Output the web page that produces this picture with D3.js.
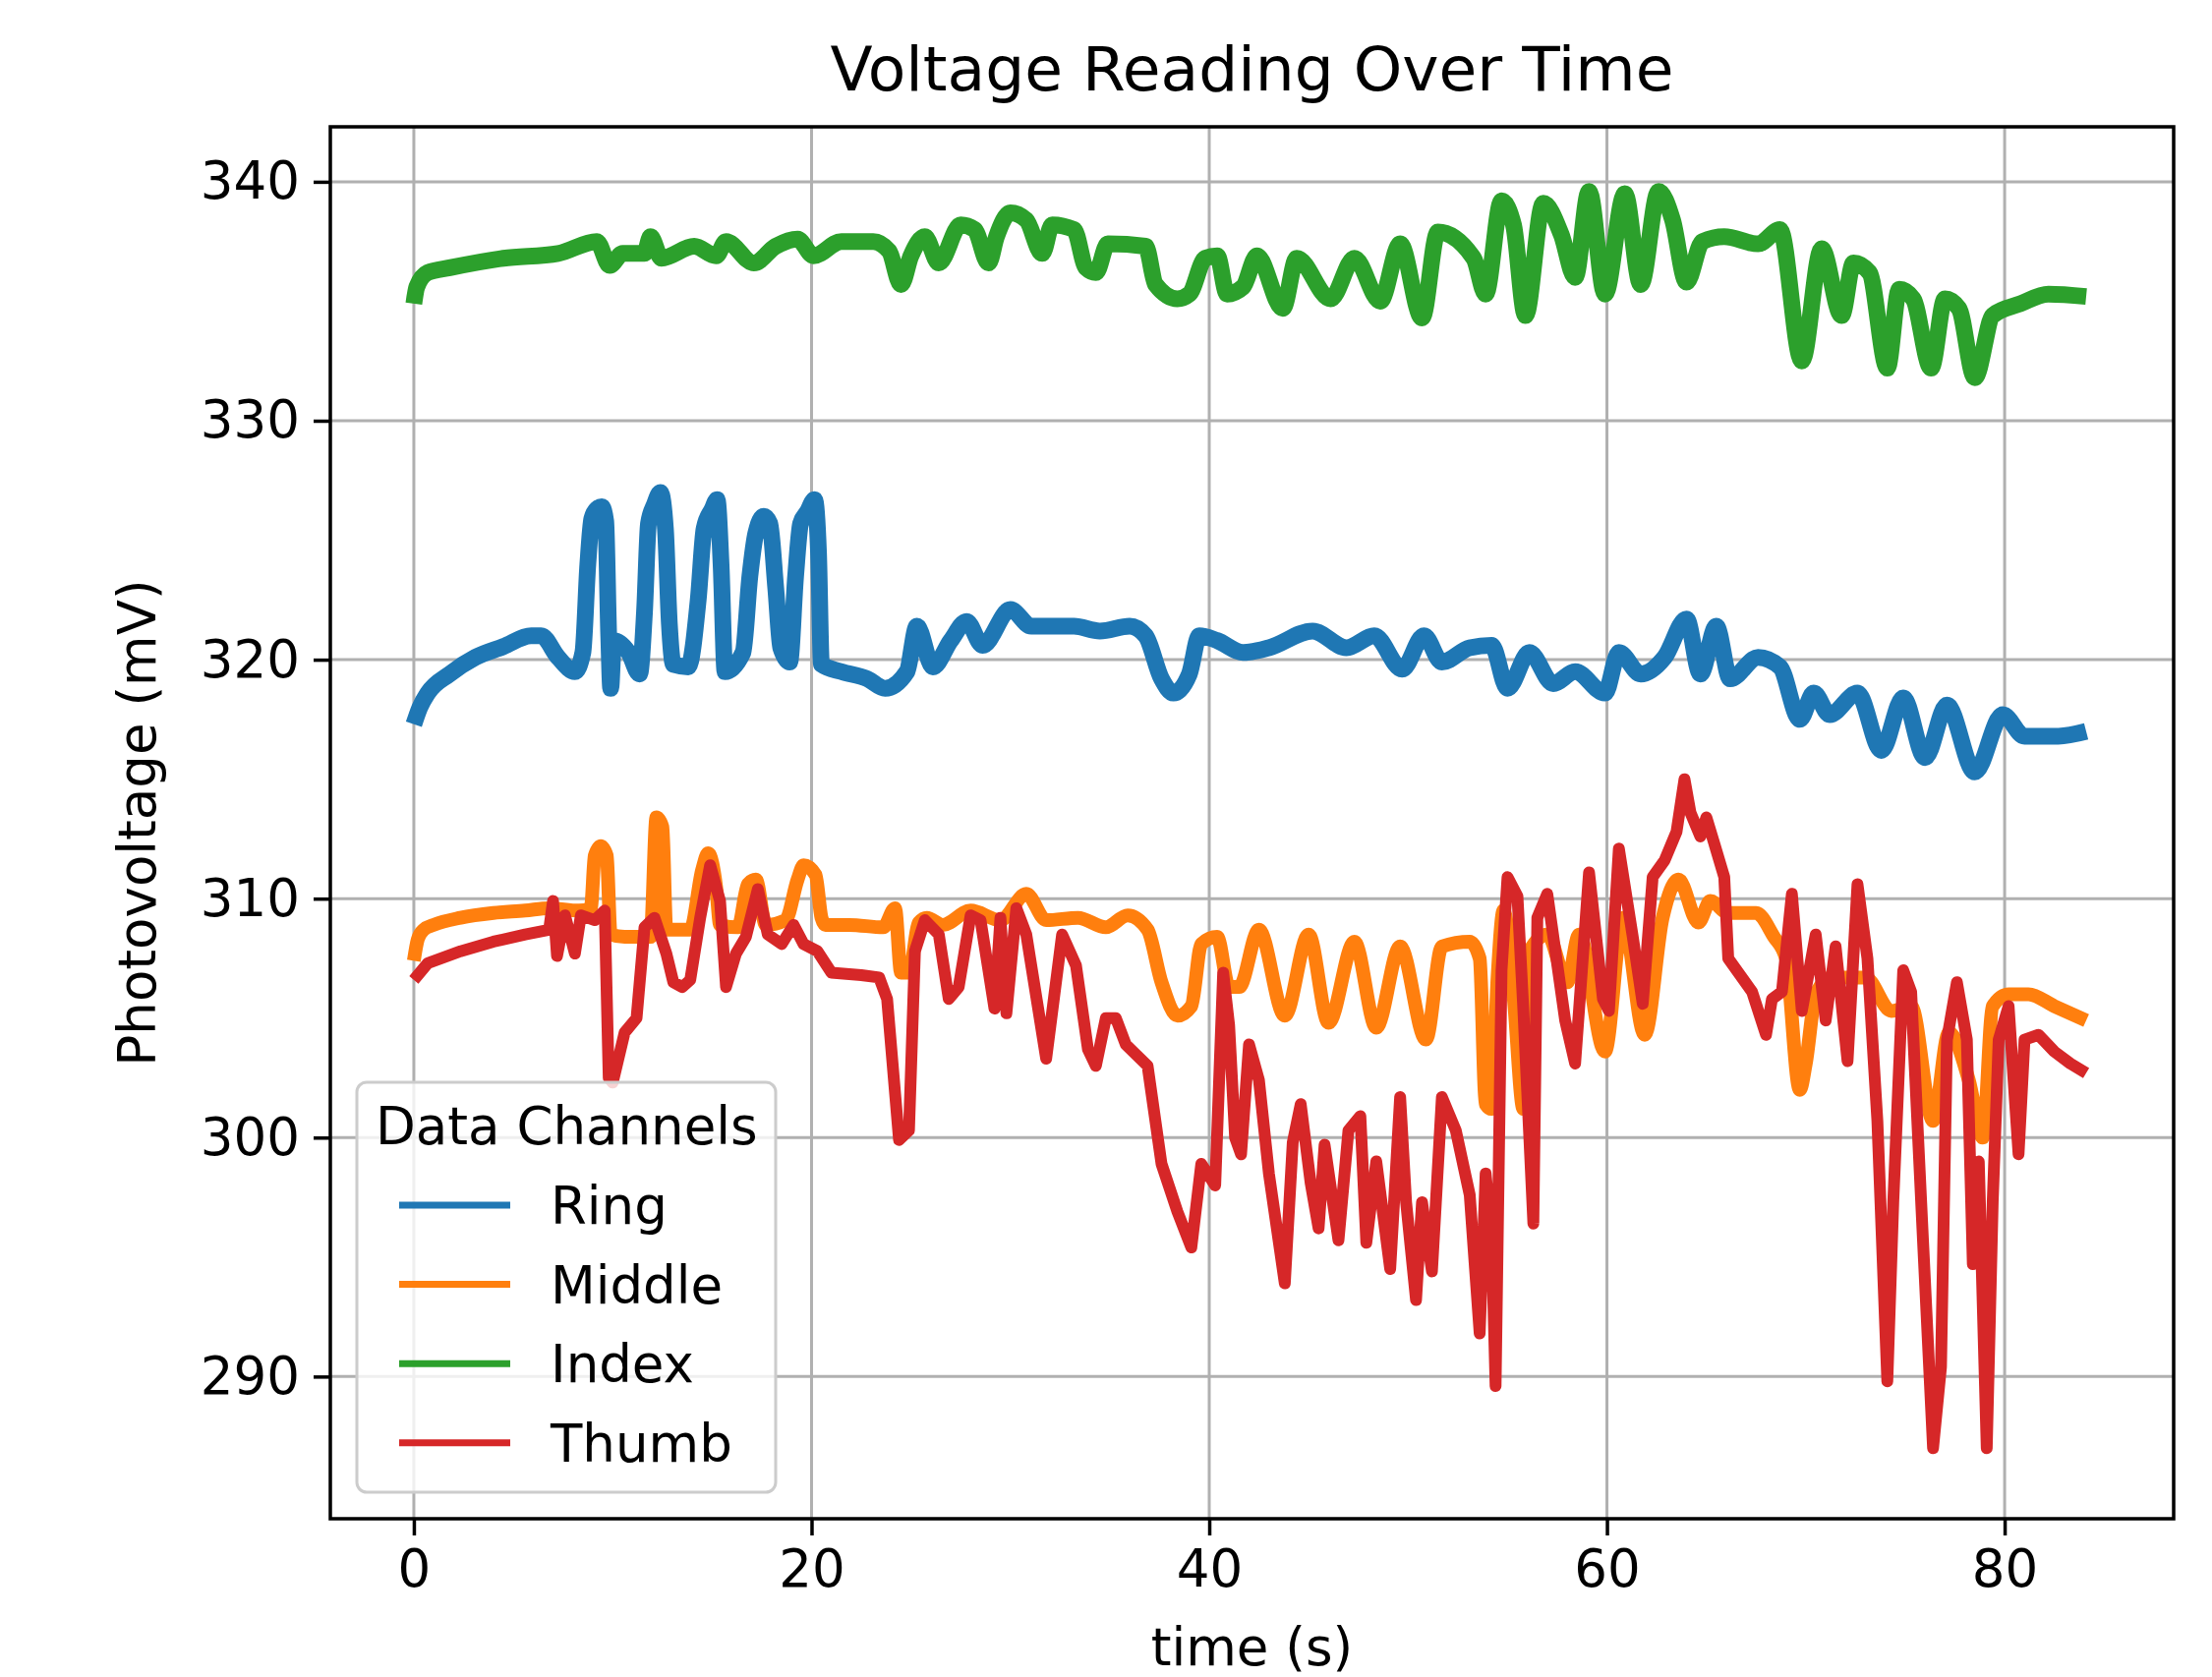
<!doctype html>
<html lang="en">
<head>
    <meta charset="UTF-8">
    <script src="https://cdnjs.cloudflare.com/ajax/libs/d3/7.8.5/d3.min.js"></script>
    <title>Voltage Reading Over Time</title>
    <style>
        body { margin: 0; background: #fff; }
        text { font-family: "DejaVu Sans", sans-serif; fill: #000; }
    </style>
</head>
<body>

<div id="viz_area"></div>

<script>
    // [time (s), photovoltage (mV)]
    const ring = [[0,317.3],[0.3,318.0],[0.7,318.6],[1.8,319.4],[3.1,320.1],[4.5,320.55],[5.9,321.0],[6.4,321.0],
        [7.25,320.1],[8.1,319.5],[8.5,320.3],[8.75,324.0],[8.95,325.9],[9.2,326.3],[9.45,326.4],[9.65,325.8],[9.8,321.0],
        [9.9,318.8],[10.05,320.8],[10.8,320.3],[11.35,319.4],[11.6,322.0],[11.8,325.7],[12.1,326.5],[12.4,327.0],[12.65,325.5],
        [12.85,321.5],[13.05,319.8],[13.8,319.7],[14.3,322.5],[14.6,325.5],[15.0,326.3],[15.25,326.7],[15.45,324.0],[15.65,319.5],
        [16.55,320.3],[16.9,323.5],[17.2,325.3],[17.6,326.0],[17.9,325.7],[18.2,323.0],[18.45,320.5],[18.9,319.9],[19.2,323.5],
        [19.45,325.7],[19.8,326.2],[20.15,326.7],[20.35,324.5],[20.5,319.8],
        [21.5,319.5],[22.8,319.2],[23.7,318.8],[24.8,319.5],[25.3,321.4],[26.1,319.7],[27.0,320.8],[27.8,321.6],[28.6,320.6],
        [30.0,322.1],[31.05,321.4],[33.2,321.4],[34.5,321.2],[36.0,321.4],[36.8,321.0],[37.6,319.2],[38.2,318.6],[39.0,319.4],
        [39.5,321.0],[40.4,320.8],[41.7,320.3],[43.0,320.5],[45.2,321.2],[46.9,320.5],[48.3,321.0],[49.7,319.6],[50.8,321.0],
        [51.7,319.9],[53.1,320.5],[54.2,320.6],[55.0,318.8],[56.1,320.3],[57.3,319.0],[58.4,319.5],[59.9,318.6],[60.6,320.3],
        [61.7,319.4],[62.9,320.1],[64.0,321.7],[64.7,319.4],[65.5,321.4],[66.2,319.2],[67.6,320.1],[68.7,319.7],[69.7,317.5],
        [70.4,318.6],[71.2,317.7],[72.6,318.6],[73.8,316.2],[74.9,318.4],[76.0,315.9],[77.1,318.1],[78.5,315.3],[79.9,317.7],
        [81.0,316.8],[82.7,316.8],[84.1,317.0]];

    const middle = [[0,307.4],[0.2,308.3],[0.5,308.7],[1.0,308.9],[2.35,309.2],[4.0,309.4],[5.6,309.5],[6.8,309.6],
        [8.3,309.5],[8.9,309.6],[9.1,311.8],[9.4,312.2],[9.7,311.8],[9.9,308.5],[10.6,308.4],[11.9,308.4],[12.2,313.4],
        [12.5,313.0],[12.7,308.7],[13.9,308.7],[14.5,311.2],[14.8,311.9],[15.2,310.5],[15.4,308.9],[16.3,308.8],[16.8,310.6],
        [17.2,310.8],[17.7,308.9],[18.7,309.1],[19.3,310.8],[19.6,311.4],[20.2,311.0],[20.5,309.2],[20.7,308.9],[21.9,308.9],
        [23.6,308.8],[24.2,309.6],[24.5,306.9],[24.9,306.9],[25.4,309.0],[25.8,309.2],[26.6,308.9],[28.0,309.5],[29.5,309.1],
        [30.8,310.2],[31.8,309.1],[33.4,309.2],[34.8,308.8],[35.9,309.3],[36.9,308.7],[37.6,306.5],[38.4,305.1],[39.1,305.5],
        [39.6,308.1],[40.4,308.4],[41.0,306.3],[41.5,306.3],[42.5,308.7],[43.8,305.1],[45.0,308.5],[46.0,304.8],[47.3,308.2],
        [48.4,304.6],[49.6,308.0],[50.9,304.1],[51.7,308.0],[53.1,308.2],[53.6,307.5],[53.9,301.4],[54.2,301.2],[54.5,306.7],
        [54.8,309.5],[55.3,306.0],[55.8,301.2],[56.1,307.8],[57.0,308.5],[58.0,306.5],[58.6,308.5],[59.9,303.6],[60.8,309.2],
        [61.9,304.3],[62.8,309.2],[63.6,310.8],[64.6,309.0],[65.2,309.9],[66.1,309.4],[67.5,309.4],[68.4,308.4],[69.0,307.5],
        [69.7,302.0],[70.0,303.1],[70.5,306.0],[71.3,306.7],[73.0,306.7],[74.3,305.3],[75.3,305.5],[76.4,300.7],[77.2,304.4],
        [78.2,302.4],[78.9,300.0],[79.4,305.5],[80.2,306.0],[81.2,306.0],[82.5,305.5],[84.1,304.9]];

    const index = [[0,334.9],[0.15,335.6],[0.7,336.2],[1.8,336.4],[4.5,336.8],[7.25,337.0],[9.2,337.5],[9.85,336.5],
        [10.5,337.0],[11.6,337.0],[11.9,337.7],[12.45,336.8],[14.1,337.3],[15.2,336.9],[15.7,337.5],[17.1,336.6],[18.2,337.3],
        [19.3,337.6],[20.1,336.9],[21.5,337.5],[23.1,337.5],[23.9,337.1],[24.5,335.7],[25.0,336.9],[25.7,337.7],[26.4,336.6],
        [27.5,338.2],[28.2,338.0],[28.9,336.6],[29.3,337.7],[30.0,338.7],[30.8,338.4],[31.6,337.0],[32.1,338.2],[33.2,338.0],
        [33.8,336.4],[34.3,336.2],[34.9,337.4],[36.8,337.3],[37.3,335.7],[38.4,335.1],[39.0,335.3],[39.8,336.8],[40.4,336.9],
        [40.9,335.3],[41.7,335.6],[42.4,336.9],[43.7,334.7],[44.4,336.8],[46.1,335.1],[47.3,336.8],[48.6,335.0],[49.6,337.4],
        [50.7,334.3],[51.5,337.9],[53.3,336.8],[53.9,335.3],[54.7,339.2],[55.3,338.2],[55.9,334.4],[56.8,339.1],[57.7,337.8],
        [58.4,336.0],[59.1,339.6],[59.9,335.3],[60.9,339.5],[61.7,335.7],[62.6,339.6],[63.3,338.4],[64.0,335.8],[64.8,337.5],
        [65.9,337.7],[67.6,337.4],[68.7,338.0],[69.8,332.5],[70.8,337.2],[71.8,334.4],[72.4,336.6],[73.2,336.2],[74.1,332.2],
        [74.7,335.5],[75.4,335.1],[76.3,332.2],[77.0,335.1],[77.7,334.7],[78.5,331.8],[79.4,334.4],[80.8,334.9],[82.2,335.3],
        [84.1,335.2]];

    const thumb = [[0,306.6],[0.7,307.3],[2.35,307.8],[4.0,308.2],[5.6,308.5],[6.8,308.7],[7.0,309.9],[7.2,307.6],
        [7.6,309.3],[8.1,307.7],[8.4,309.3],[9.1,309.1],[9.6,309.5],[9.8,302.5],[10.0,302.3],[10.6,304.4],[11.2,305.0],
        [11.6,308.8],[12.1,309.2],[12.7,307.7],[13.05,306.5],[13.5,306.3],[13.9,306.6],[14.4,309.2],[14.9,311.4],[15.4,309.9],
        [15.7,306.3],[16.2,307.7],[16.7,308.4],[17.3,310.4],[17.8,308.5],[18.5,308.1],[19.1,308.9],[19.6,308.1],[20.3,307.8],
        [21.0,306.9],[22.5,306.8],[23.4,306.7],[23.8,305.8],[24.4,299.9],[24.9,300.3],[25.2,307.8],[25.7,309.1],[26.4,308.5],
        [26.9,305.8],[27.4,306.3],[28.0,309.3],[28.5,309.1],[29.2,305.4],[29.5,309.2],[29.8,305.2],[30.3,309.6],[30.8,308.5],
        [31.8,303.3],[32.6,308.5],[33.3,307.2],[33.9,303.7],[34.3,303.0],[34.8,305.0],[35.3,305.0],[35.8,303.9],[36.9,303.0],
        [37.6,298.9],[38.4,296.9],[39.1,295.4],[39.6,298.9],[40.3,298.0],[40.7,306.9],[41.0,304.7],[41.3,300.0],[41.6,299.3],
        [42.0,303.9],[42.5,302.4],[43.0,298.5],[43.8,293.9],[44.2,299.8],[44.6,301.4],[45.1,298.1],[45.5,296.2],[45.8,299.7],
        [46.5,295.7],[47.0,300.3],[47.6,300.9],[47.9,295.6],[48.4,299.0],[49.1,294.5],[49.6,301.7],[49.9,297.3],[50.4,293.2],
        [50.7,297.3],[51.2,294.4],[51.7,301.7],[52.4,300.3],[53.1,297.6],[53.6,291.8],[53.9,298.5],[54.2,295.9],[54.4,289.6],
        [54.7,307.0],[55.0,310.9],[55.5,310.1],[55.8,305.3],[56.3,296.4],[56.5,309.2],[57.0,310.2],[57.9,304.9],[58.4,303.1],
        [59.1,311.1],[59.8,305.8],[60.1,305.3],[60.6,312.1],[61.3,308.4],[61.8,305.6],[62.3,310.9],[62.9,311.6],[63.5,312.8],
        [63.9,315.0],[64.2,313.6],[64.7,312.6],[65.0,313.4],[65.4,312.3],[65.9,310.9],[66.1,307.5],[66.7,306.8],[67.3,306.1],
        [68.0,304.3],[68.3,305.8],[68.8,306.1],[69.3,310.2],[69.8,305.3],[70.5,308.5],[71.0,304.9],[71.5,308.0],[72.1,303.2],
        [72.6,310.6],[73.1,307.5],[73.6,300.7],[74.1,289.8],[74.4,297.3],[74.9,307.0],[75.3,306.1],[75.9,295.6],[76.4,287.0],
        [76.8,290.4],[77.1,304.1],[77.6,306.5],[78.1,304.1],[78.4,294.7],[78.7,299.0],[79.1,287.0],[79.4,297.3],[79.7,304.1],
        [80.2,305.5],[80.7,299.3],[81.0,304.1],[81.7,304.3],[82.5,303.6],[83.3,303.1],[84.1,302.7]];

    const channelNames = ["Ring", "Middle", "Index", "Thumb"];
    const channelData = [ring, middle, index, thumb];
    const colors = ["#1f77b4", "#ff7f0e", "#2ca02c", "#d62728"];
    const xTicks = [0, 20, 40, 60, 80];
    const yTicks = [290, 300, 310, 320, 330, 340];

    const width = 2250, height = 1706;
    const plot = {left: 336, right: 2211, top: 129, bottom: 1545};

    const svg = d3.select('#viz_area')
        .append("svg")
        .attr("width", width)
        .attr("height", height);

    svg.append("rect").attr("width", width).attr("height", height).attr("fill", "#fff");

    const x = d3.scaleLinear().domain([-4.2, 88.5]).range([plot.left, plot.right]);
    const y = d3.scaleLinear().domain([284.05, 342.3]).range([plot.bottom, plot.top]);

    // grid
    const grid = svg.append("g").attr("stroke", "#b0b0b0").attr("stroke-width", 3);
    grid.selectAll(".gx").data(xTicks).join("line")
        .attr("x1", d => x(d)).attr("x2", d => x(d))
        .attr("y1", plot.top).attr("y2", plot.bottom);
    grid.selectAll(".gy").data(yTicks).join("line")
        .attr("y1", d => y(d)).attr("y2", d => y(d))
        .attr("x1", plot.left).attr("x2", plot.right);

    // series - the recorded traces are noisy, so they read as thick bands
    const smooth = d3.line().x(d => x(d[0])).y(d => y(d[1])).curve(d3.curveMonotoneX);
    const sharp = d3.line().x(d => x(d[0])).y(d => y(d[1]));
    const widths = [17, 14, 17, 12];
    svg.append("g").selectAll("path")
        .data(channelData)
        .join("path")
        .attr("d", (d, i) => i == 3 ? sharp(d) : smooth(d))
        .attr("fill", "none")
        .attr("stroke", (d, i) => colors[i])
        .attr("stroke-width", (d, i) => widths[i])
        .attr("stroke-linejoin", "round");

    // axes
    const xAxis = d3.axisBottom(x).tickValues(xTicks).tickSize(17).tickPadding(14);
    const yAxis = d3.axisLeft(y).tickValues(yTicks).tickSize(17).tickPadding(14);

    const gx = svg.append("g").attr("transform", `translate(0,${plot.bottom})`).call(xAxis);
    const gy = svg.append("g").attr("transform", `translate(${plot.left},0)`).call(yAxis);
    [gx, gy].forEach(g => {
        g.select(".domain").remove();
        g.selectAll(".tick line").attr("stroke", "#000").attr("stroke-width", 3.5);
        g.selectAll(".tick text").attr("font-size", 53).attr("font-family", "DejaVu Sans").attr("fill", "#000");
    });

    svg.append("rect")
        .attr("x", plot.left).attr("y", plot.top)
        .attr("width", plot.right - plot.left).attr("height", plot.bottom - plot.top)
        .attr("fill", "none").attr("stroke", "#000").attr("stroke-width", 3.5);

    // titles
    svg.append("text")
        .attr("x", (plot.left + plot.right) / 2).attr("y", 92)
        .attr("text-anchor", "middle").attr("font-size", 63)
        .text("Voltage Reading Over Time");

    svg.append("text")
        .attr("x", (plot.left + plot.right) / 2).attr("y", 1694)
        .attr("text-anchor", "middle").attr("font-size", 53)
        .text("time (s)");

    svg.append("text")
        .attr("transform", `translate(158,${(plot.top + plot.bottom) / 2}) rotate(-90)`)
        .attr("text-anchor", "middle").attr("font-size", 53)
        .text("Photovoltage (mV)");

    // legend
    const legend = svg.append("g");
    legend.append("rect")
        .attr("x", 363).attr("y", 1101).attr("width", 426).attr("height", 417)
        .attr("rx", 10)
        .attr("fill", "#fff").attr("fill-opacity", 0.8)
        .attr("stroke", "#cccccc").attr("stroke-width", 3);
    legend.append("text")
        .attr("x", 382).attr("y", 1164).attr("font-size", 53)
        .text("Data Channels");

    const rows = legend.selectAll(".row").data(channelNames).join("g")
        .attr("transform", (d, i) => `translate(0,${1226 + i * 80.6})`);
    rows.append("line")
        .attr("x1", 406).attr("x2", 519)
        .attr("stroke", (d, i) => colors[i]).attr("stroke-width", 7);
    rows.append("text")
        .attr("x", 560).attr("y", 19).attr("font-size", 53)
        .text(d => d);
</script>
</body>
</html>
